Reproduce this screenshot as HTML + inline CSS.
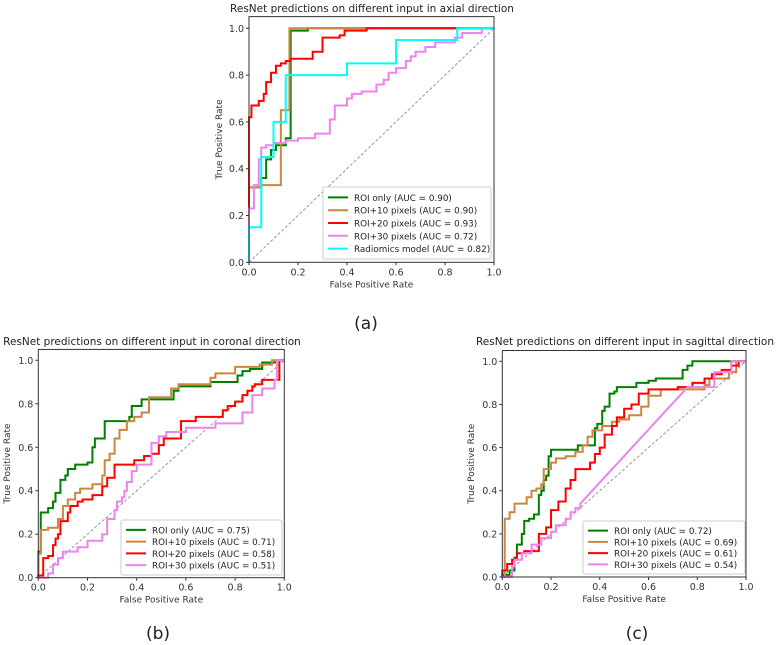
<!DOCTYPE html>
<html><head><meta charset="utf-8"><style>
html,body{margin:0;padding:0;background:#fff;}
svg{display:block;font-family:"DejaVu Sans","Liberation Sans",sans-serif;}
</style></head><body>
<svg id="fig" width="776" height="645" viewBox="0 0 776 645"></svg>
<script>
// ---------- data ----------
const tickValues = [0.0, 0.2, 0.4, 0.6, 0.8, 1.0];
const tickLabels = ["0.0", "0.2", "0.4", "0.6", "0.8", "1.0"];
const colors = ["#008000", "#cd853f", "#ff0000", "#ee82ee", "#00ffff"];

const axialLabels = ["ROI only (AUC = 0.90)", "ROI+10 pixels (AUC = 0.90)", "ROI+20 pixels  (AUC = 0.93)", "ROI+30 pixels (AUC = 0.72)", "Radiomics model (AUC = 0.82)"];
const axialRoiOnly = [[0,0],[0,0.32],[0.05,0.32],[0.05,0.36],[0.07,0.36],[0.07,0.44],[0.09,0.44],[0.09,0.48],[0.11,0.48],[0.11,0.5],[0.15,0.5],[0.15,0.53],[0.17,0.53],[0.17,0.65],[0.17,0.99],[0.24,0.99],[0.24,1],[1,1]];
const axialRoi10 = [[0,0],[0,0.32],[0.05,0.32],[0.05,0.33],[0.13,0.33],[0.13,0.65],[0.165,0.65],[0.165,1],[1,1]];
const axialRoi20 = [[0,0],[0,0.62],[0.01,0.62],[0.01,0.67],[0.04,0.67],[0.04,0.69],[0.06,0.69],[0.06,0.72],[0.07,0.72],[0.07,0.77],[0.09,0.77],[0.09,0.81],[0.11,0.81],[0.11,0.84],[0.13,0.84],[0.13,0.85],[0.15,0.85],[0.15,0.86],[0.17,0.86],[0.17,0.87],[0.26,0.87],[0.26,0.9],[0.3,0.9],[0.3,0.96],[0.37,0.96],[0.37,0.97],[0.39,0.97],[0.39,0.99],[0.48,0.99],[0.48,1],[1,1]];
const axialRoi30 = [[0,0],[0,0.23],[0.02,0.23],[0.02,0.33],[0.04,0.33],[0.04,0.44],[0.05,0.44],[0.05,0.49],[0.07,0.49],[0.07,0.5],[0.1,0.5],[0.1,0.51],[0.15,0.51],[0.15,0.52],[0.2,0.52],[0.2,0.53],[0.27,0.53],[0.27,0.55],[0.33,0.55],[0.33,0.61],[0.35,0.61],[0.35,0.67],[0.4,0.67],[0.4,0.7],[0.42,0.7],[0.42,0.72],[0.46,0.72],[0.46,0.73],[0.52,0.73],[0.52,0.76],[0.55,0.76],[0.55,0.78],[0.57,0.78],[0.57,0.81],[0.6,0.81],[0.6,0.83],[0.64,0.83],[0.64,0.86],[0.66,0.86],[0.66,0.88],[0.68,0.88],[0.68,0.9],[0.72,0.9],[0.72,0.92],[0.76,0.92],[0.76,0.94],[0.84,0.94],[0.84,0.96],[0.87,0.96],[0.87,0.98],[0.95,0.98],[0.95,1],[1,1]];
const axialRadiomics = [[0,0],[0,0.15],[0.05,0.15],[0.05,0.45],[0.1,0.45],[0.1,0.6],[0.15,0.6],[0.15,0.8],[0.4,0.8],[0.4,0.85],[0.6,0.85],[0.6,0.95],[0.85,0.95],[0.85,1],[1,1]];

const coronalLabels = ["ROI only (AUC = 0.75)", "ROI+10 pixels (AUC = 0.71)", "ROI+20 pixels  (AUC = 0.58)", "ROI+30 pixels (AUC = 0.51)"];
const coronalRoiOnly = [[0,0],[0,0.12],[0.01,0.12],[0.01,0.3],[0.04,0.3],[0.04,0.32],[0.06,0.32],[0.06,0.35],[0.07,0.35],[0.07,0.39],[0.09,0.39],[0.09,0.45],[0.11,0.45],[0.11,0.47],[0.12,0.47],[0.12,0.5],[0.15,0.5],[0.15,0.52],[0.2,0.52],[0.2,0.53],[0.22,0.53],[0.22,0.6],[0.23,0.6],[0.23,0.64],[0.27,0.64],[0.27,0.72],[0.37,0.72],[0.37,0.74],[0.38,0.74],[0.38,0.79],[0.42,0.79],[0.42,0.82],[0.55,0.82],[0.55,0.86],[0.57,0.86],[0.57,0.88],[0.7,0.88],[0.7,0.9],[0.81,0.9],[0.81,0.93],[0.83,0.93],[0.83,0.95],[0.86,0.95],[0.86,0.96],[0.91,0.96],[0.91,0.99],[0.97,0.99],[0.97,1],[1,1]];
const coronalRoi10 = [[0,0],[0,0.11],[0.01,0.11],[0.01,0.22],[0.04,0.22],[0.04,0.23],[0.08,0.23],[0.08,0.27],[0.1,0.27],[0.1,0.33],[0.12,0.33],[0.12,0.36],[0.15,0.36],[0.15,0.39],[0.17,0.39],[0.17,0.41],[0.22,0.41],[0.22,0.43],[0.26,0.43],[0.26,0.47],[0.27,0.47],[0.27,0.54],[0.29,0.54],[0.29,0.57],[0.31,0.57],[0.31,0.64],[0.33,0.64],[0.33,0.68],[0.36,0.68],[0.36,0.72],[0.39,0.72],[0.39,0.74],[0.42,0.74],[0.42,0.76],[0.45,0.76],[0.45,0.83],[0.54,0.83],[0.54,0.87],[0.57,0.87],[0.57,0.89],[0.7,0.89],[0.7,0.92],[0.72,0.92],[0.72,0.94],[0.8,0.94],[0.8,0.97],[0.9,0.97],[0.9,0.98],[0.95,0.98],[0.95,1],[1,1]];
const coronalRoi20 = [[0,0],[0,0.01],[0.02,0.01],[0.02,0.09],[0.04,0.09],[0.04,0.1],[0.06,0.1],[0.06,0.15],[0.07,0.15],[0.07,0.18],[0.08,0.18],[0.08,0.2],[0.09,0.2],[0.09,0.26],[0.12,0.26],[0.12,0.3],[0.13,0.3],[0.13,0.33],[0.16,0.33],[0.16,0.35],[0.18,0.35],[0.18,0.36],[0.22,0.36],[0.22,0.38],[0.26,0.38],[0.26,0.42],[0.28,0.42],[0.28,0.46],[0.31,0.46],[0.31,0.52],[0.39,0.52],[0.39,0.54],[0.43,0.54],[0.43,0.56],[0.46,0.56],[0.46,0.57],[0.49,0.57],[0.49,0.61],[0.51,0.61],[0.51,0.64],[0.58,0.64],[0.58,0.72],[0.64,0.72],[0.64,0.74],[0.75,0.74],[0.75,0.77],[0.77,0.77],[0.77,0.79],[0.8,0.79],[0.8,0.81],[0.83,0.81],[0.83,0.84],[0.85,0.84],[0.85,0.86],[0.87,0.86],[0.87,0.88],[0.88,0.88],[0.88,0.89],[0.91,0.89],[0.91,0.91],[0.98,0.91],[0.98,1],[1,1]];
const coronalRoi30 = [[0,0],[0.04,0],[0.04,0.02],[0.06,0.02],[0.06,0.06],[0.08,0.06],[0.08,0.09],[0.1,0.09],[0.1,0.12],[0.16,0.12],[0.16,0.14],[0.2,0.14],[0.2,0.17],[0.26,0.17],[0.26,0.2],[0.28,0.2],[0.28,0.27],[0.31,0.27],[0.31,0.31],[0.32,0.31],[0.32,0.35],[0.34,0.35],[0.34,0.37],[0.35,0.37],[0.35,0.4],[0.36,0.4],[0.36,0.44],[0.38,0.44],[0.38,0.49],[0.4,0.49],[0.4,0.52],[0.46,0.52],[0.46,0.62],[0.49,0.62],[0.49,0.65],[0.52,0.65],[0.52,0.67],[0.6,0.67],[0.6,0.69],[0.72,0.69],[0.72,0.71],[0.83,0.71],[0.83,0.76],[0.87,0.76],[0.87,0.84],[0.91,0.84],[0.91,0.87],[0.96,0.87],[0.96,0.91],[0.97,0.91],[0.97,1],[1,1]];

const sagittalLabels = ["ROI only (AUC = 0.72)", "ROI+10 pixels (AUC = 0.69)", "ROI+20 pixels  (AUC = 0.61)", "ROI+30 pixels (AUC = 0.54)"];
const sagittalRoiOnly = [[0,0],[0,0.01],[0.03,0.01],[0.03,0.03],[0.05,0.03],[0.05,0.09],[0.06,0.09],[0.06,0.15],[0.08,0.15],[0.08,0.2],[0.09,0.2],[0.09,0.26],[0.11,0.26],[0.11,0.27],[0.13,0.27],[0.13,0.29],[0.15,0.29],[0.15,0.38],[0.16,0.38],[0.16,0.4],[0.17,0.4],[0.17,0.45],[0.18,0.45],[0.18,0.47],[0.19,0.47],[0.19,0.56],[0.2,0.56],[0.2,0.59],[0.31,0.59],[0.31,0.61],[0.38,0.61],[0.38,0.69],[0.39,0.69],[0.39,0.71],[0.41,0.71],[0.41,0.77],[0.42,0.77],[0.42,0.79],[0.44,0.79],[0.44,0.85],[0.46,0.85],[0.46,0.86],[0.47,0.86],[0.47,0.88],[0.55,0.88],[0.55,0.9],[0.6,0.9],[0.6,0.91],[0.63,0.91],[0.63,0.92],[0.74,0.92],[0.74,0.96],[0.76,0.96],[0.76,0.98],[0.78,0.98],[0.78,1],[1,1]];
const sagittalRoi10 = [[0,0],[0.01,0],[0.01,0.27],[0.03,0.27],[0.03,0.3],[0.05,0.3],[0.05,0.34],[0.1,0.34],[0.1,0.37],[0.12,0.37],[0.12,0.4],[0.14,0.4],[0.14,0.41],[0.16,0.41],[0.16,0.43],[0.17,0.43],[0.17,0.5],[0.2,0.5],[0.2,0.53],[0.22,0.53],[0.22,0.55],[0.26,0.55],[0.26,0.56],[0.3,0.56],[0.3,0.58],[0.33,0.58],[0.33,0.61],[0.35,0.61],[0.35,0.65],[0.37,0.65],[0.37,0.68],[0.41,0.68],[0.41,0.7],[0.45,0.7],[0.45,0.72],[0.48,0.72],[0.48,0.73],[0.52,0.73],[0.52,0.75],[0.57,0.75],[0.57,0.79],[0.6,0.79],[0.6,0.84],[0.65,0.84],[0.65,0.87],[0.83,0.87],[0.83,0.89],[0.85,0.89],[0.85,0.92],[0.93,0.92],[0.93,0.95],[0.96,0.95],[0.96,1],[1,1]];
const sagittalRoi20 = [[0,0],[0,0.03],[0.02,0.03],[0.02,0.06],[0.04,0.06],[0.04,0.08],[0.06,0.08],[0.06,0.11],[0.09,0.11],[0.09,0.12],[0.15,0.12],[0.15,0.2],[0.18,0.2],[0.18,0.23],[0.2,0.23],[0.2,0.31],[0.23,0.31],[0.23,0.35],[0.26,0.35],[0.26,0.41],[0.28,0.41],[0.28,0.45],[0.3,0.45],[0.3,0.5],[0.36,0.5],[0.36,0.53],[0.38,0.53],[0.38,0.57],[0.4,0.57],[0.4,0.6],[0.42,0.6],[0.42,0.66],[0.45,0.66],[0.45,0.7],[0.47,0.7],[0.47,0.74],[0.5,0.74],[0.5,0.78],[0.53,0.78],[0.53,0.8],[0.56,0.8],[0.56,0.85],[0.6,0.85],[0.6,0.87],[0.72,0.87],[0.72,0.88],[0.78,0.88],[0.78,0.9],[0.83,0.9],[0.83,0.92],[0.86,0.92],[0.86,0.94],[0.9,0.94],[0.9,0.96],[0.94,0.96],[0.94,0.98],[0.97,0.98],[0.97,1],[1,1]];
const sagittalRoi30 = [[0,0],[0.04,0],[0.04,0.05],[0.05,0.05],[0.05,0.08],[0.08,0.08],[0.08,0.11],[0.12,0.11],[0.12,0.15],[0.16,0.15],[0.16,0.18],[0.2,0.18],[0.2,0.21],[0.22,0.21],[0.22,0.24],[0.26,0.24],[0.26,0.27],[0.28,0.27],[0.28,0.3],[0.3,0.3],[0.3,0.32],[0.32,0.32],[0.32,0.34],[0.76,0.88],[0.87,0.88],[0.87,0.95],[0.94,0.95],[0.94,1],[1,1]];

// ---------- drawing ----------
const NS = "http://www.w3.org/2000/svg";
const svg = document.getElementById("fig");
function mk(tag, attrs, parent, text) {
  const e = document.createElementNS(NS, tag);
  for (const k in attrs) e.setAttribute(k, attrs[k]);
  if (text !== undefined) e.textContent = text;
  (parent || svg).appendChild(e);
  return e;
}

function drawChart(cfg) {
  const g = mk("g", {});
  
  
  const xs = v => cfg.x0 + v * (cfg.x1 - cfg.x0);
  const ys = v => cfg.y0 - v * (cfg.y0 - cfg.y1);
  const top = ys(1.05);
  const diag = mk("line", {x1: xs(0), y1: ys(0), x2: xs(1), y2: ys(1), stroke: "#8a8aa0", "stroke-width": 0.9, "stroke-dasharray": "3,2"}, g);
  
  
  cfg.series.forEach((pts, i) => {
    const d = pts.map((p, j) => (j ? "L" : "M") + xs(p[0]).toFixed(2) + "," + ys(p[1]).toFixed(2)).join("");
    const path = mk("path", {d: d, fill: "none", stroke: colors[i], "stroke-width": 2, "stroke-linejoin": "miter"}, g);
    
    
  });
  const frame = mk("rect", {x: cfg.x0, y: top, width: cfg.x1 - cfg.x0, height: cfg.y0 - top, fill: "none", stroke: "#333", "stroke-width": 1}, g);
  
  
  tickValues.forEach((v, i) => {
    mk("line", {x1: xs(v), y1: cfg.y0, x2: xs(v), y2: cfg.y0 + 3, stroke: "#333"}, g);
    const tx = mk("text", {x: xs(v), y: cfg.y0 + 13, "font-size": 9.5, "text-anchor": "middle", fill: "#333"}, g, tickLabels[i]);
    
    
    mk("line", {x1: cfg.x0 - 3, y1: ys(v), x2: cfg.x0, y2: ys(v), stroke: "#333"}, g);
    const ty = mk("text", {x: cfg.x0 - 5, y: ys(v) + 3.5, "font-size": 9.5, "text-anchor": "end", fill: "#333"}, g, tickLabels[i]);
    
    
  });
  const xl = mk("text", {x: (cfg.x0 + cfg.x1) / 2, y: cfg.y0 + 25, "font-size": 9, "text-anchor": "middle", fill: "#333"}, g, "False Positive Rate");
  
  
  const yc = (cfg.y0 + top) / 2;
  const yl = mk("text", {x: cfg.ylx, y: yc, "font-size": 9, "text-anchor": "middle", fill: "#333", transform: "rotate(-90 " + cfg.ylx + " " + yc + ")"}, g, "True Positive Rate");
  
  
  const tt = mk("text", {x: cfg.titleX, y: cfg.titleY, "font-size": 10.5, "text-anchor": "middle", fill: "#222"}, g, cfg.title);
  
  
  const L = cfg.legend;
  const lg = mk("g", {}, g);
  
  
  mk("rect", {x: L.x, y: L.y, width: L.w, height: L.h, fill: "#fff", stroke: "#ccc", rx: 2}, lg);
  const step = (L.h - 8) / cfg.labels.length;
  cfg.labels.forEach((lab, i) => {
    const cy = L.y + 4 + step * (i + 0.5);
    mk("line", {x1: L.x + 5, y1: cy, x2: L.x + 25, y2: cy, stroke: colors[i], "stroke-width": 2}, lg);
    const t = mk("text", {x: L.x + 31, y: cy + 3.5, "font-size": 8.8, fill: "#222"}, lg, lab);
    
    
  });
  const pl = mk("text", {x: cfg.panelX, y: cfg.panelY, "font-size": 17, "text-anchor": "middle", fill: "#222"}, g, cfg.panel);
  
  
}

drawChart({name: "axial-roc-chart", x0: 249, x1: 494, y0: 262.3, y1: 28.3, ylx: 222,
  title: "ResNet predictions on different input in axial direction", titleX: 372, titleY: 12,
  series: [axialRoiOnly, axialRoi10, axialRoi20, axialRoi30, axialRadiomics], labels: axialLabels,
  legend: {x: 323, y: 187, w: 168, h: 72}, panel: "(a)", panelX: 366, panelY: 329});
drawChart({name: "coronal-roc-chart", x0: 38.3, x1: 284.3, y0: 577.7, y1: 360.3, ylx: 10,
  title: "ResNet predictions on different input in coronal direction", titleX: 152, titleY: 345,
  series: [coronalRoiOnly, coronalRoi10, coronalRoi20, coronalRoi30], labels: coronalLabels,
  legend: {x: 121, y: 520, w: 161, h: 55}, panel: "(b)", panelX: 158, panelY: 639});
drawChart({name: "sagittal-roc-chart", x0: 502.3, x1: 746, y0: 577, y1: 361.3, ylx: 474,
  title: "ResNet predictions on different input in sagittal direction", titleX: 625, titleY: 345,
  series: [sagittalRoiOnly, sagittalRoi10, sagittalRoi20, sagittalRoi30], labels: sagittalLabels,
  legend: {x: 583, y: 521, w: 162, h: 53}, panel: "(c)", panelX: 637, panelY: 639});
</script>
</body></html>
